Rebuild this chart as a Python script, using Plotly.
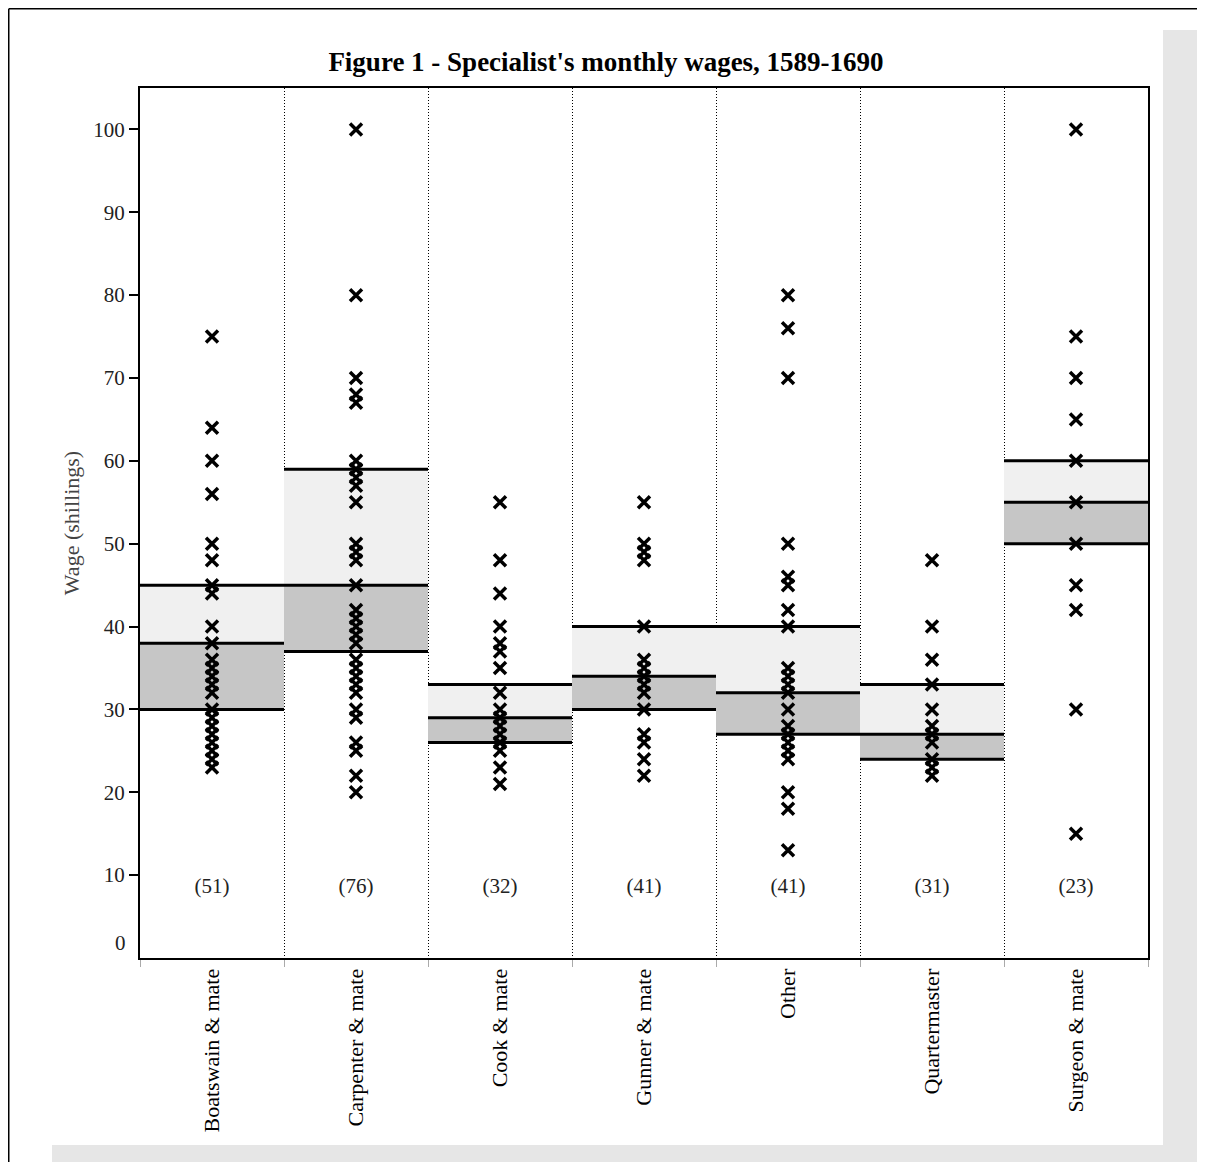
import plotly.graph_objects as go

categories = ["Boatswain & mate", "Carpenter & mate", "Cook & mate", "Gunner & mate",
              "Other", "Quartermaster", "Surgeon & mate"]
counts = [51, 76, 32, 41, 41, 31, 23]

q1 = [30, 37, 26, 30, 27, 24, 50]
median = [38, 45, 29, 34, 32, 27, 55]
q3 = [45, 59, 33, 40, 40, 33, 60]

boatswain = [75, 64, 60, 56, 50, 48, 45, 44, 40, 38, 36, 35, 34, 33, 32, 30, 29, 28, 27, 26, 25, 24, 23]
carpenter = [100, 80, 70, 68, 67, 60, 59, 58, 57, 55, 50, 49, 48, 45, 42, 41, 40, 39, 38, 36, 35,
             34, 33, 32, 30, 29, 26, 25, 22, 20]
cook = [55, 48, 44, 40, 38, 37, 35, 32, 30, 29, 28, 27, 26, 25, 23, 21]
gunner = [55, 50, 49, 48, 40, 36, 35, 34, 33, 32, 30, 27, 26, 24, 22]
other = [80, 76, 70, 50, 46, 45, 42, 40, 35, 34, 33, 32, 30, 28, 27, 26, 25, 24, 20, 18, 13]
quartermaster = [48, 40, 36, 33, 30, 28, 27, 26, 24, 23, 22]
surgeon = [100, 75, 70, 65, 60, 55, 50, 45, 42, 30, 15]

wages = [boatswain, carpenter, cook, gunner, other, quartermaster, surgeon]

y_ticks = [0, 10, 20, 30, 40, 50, 60, 70, 80, 90, 100]
count_label_y = 8.5

SERIF = "Liberation Serif, Times New Roman, serif"
idx = list(range(len(categories)))

fig = go.Figure()

# lower band (Q1 -> median)
fig.add_trace(go.Bar(x=idx, y=[m - a for m, a in zip(median, q1)], base=q1, width=1.0,
                     marker=dict(color="#c6c6c6", line=dict(width=0)), hoverinfo="skip",
                     showlegend=False))
# upper band (median -> Q3)
fig.add_trace(go.Bar(x=idx, y=[b - m for b, m in zip(q3, median)], base=median, width=1.0,
                     marker=dict(color="#f0f0f0", line=dict(width=0)), hoverinfo="skip",
                     showlegend=False))

# horizontal quartile lines
lx, ly = [], []
for i in idx:
    for v in (q1[i], median[i], q3[i]):
        lx += [i - 0.5, i + 0.5, None]
        ly += [v, v, None]
fig.add_trace(go.Scatter(x=lx, y=ly, mode="lines", line=dict(color="black", width=3),
                         hoverinfo="skip", showlegend=False))

# wage points
px, py = [], []
for i, vals in zip(idx, wages):
    px += [i] * len(vals)
    py += vals
fig.add_trace(go.Scatter(x=px, y=py, mode="markers",
                         marker=dict(symbol="x-thin", size=12, color="black",
                                     line=dict(color="black", width=3.5)),
                         showlegend=False))

# counts
fig.add_trace(go.Scatter(x=idx, y=[count_label_y] * len(idx), mode="text",
                         text=[f"({c})" for c in counts],
                         textfont=dict(family=SERIF, size=21, color="#222"),
                         hoverinfo="skip", showlegend=False))

# the page body adds an 8px margin; figure coords = screen coords - 8
OFF = 8
W, H = 1197, 1154
L, R, T, B = 132, 57, 80, 204
pw, ph = W - L - R, H - T - B


def xp(s):
    return (s - OFF - L) / pw


def yp(s):
    return (H - B - (s - OFF)) / ph


shapes = [
    dict(type="rect", xref="paper", yref="paper", x0=xp(1163), x1=xp(1210), y0=yp(1170), y1=yp(30),
         fillcolor="#e6e6e6", line=dict(width=0), layer="below"),
    dict(type="rect", xref="paper", yref="paper", x0=xp(52), x1=xp(1163), y0=yp(1170), y1=yp(1145),
         fillcolor="#e6e6e6", line=dict(width=0), layer="below"),
    dict(type="line", xref="paper", yref="paper", x0=xp(8.75), x1=xp(1210), y0=yp(8.75), y1=yp(8.75),
         line=dict(color="black", width=1.5)),
    dict(type="line", xref="paper", yref="paper", x0=xp(8.75), x1=xp(8.75), y0=yp(8.75), y1=yp(1170),
         line=dict(color="black", width=1.5)),
]

fig.update_layout(
    width=W, height=H,
    margin=dict(l=L, r=R, t=T, b=B),
    paper_bgcolor="white", plot_bgcolor="white",
    barmode="overlay",
    title=dict(text="<b>Figure 1 - Specialist's monthly wages, 1589-1690</b>",
               x=(606 - OFF) / W, xref="container", xanchor="center",
               y=1 - (62 - OFF) / H, yref="container", yanchor="middle",
               font=dict(family=SERIF, size=27, color="black")),
    shapes=shapes,
    font=dict(family=SERIF, color="black"),
)

fig.update_xaxes(
    range=[-0.5, len(categories) - 0.5],
    tickmode="array", tickvals=idx, ticktext=categories,
    tickangle=-90, ticks="", showgrid=False, zeroline=False,
    tickfont=dict(family=SERIF, size=22, color="black"),
    showline=True, linecolor="black", linewidth=2, mirror=True,
    minor=dict(tickmode="array", tickvals=[i + 0.5 for i in idx[:-1]] + [-0.5, len(idx) - 0.5],
               ticks="outside", ticklen=7, tickcolor="#aaaaaa", tickwidth=1,
               showgrid=True, gridcolor="black", griddash="1px,2px", gridwidth=1),
)

fig.update_yaxes(
    range=[0, 105],
    tickmode="array", tickvals=y_ticks[1:],
    ticks="outside", ticklen=9, tickwidth=1.5, tickcolor="black",
    showgrid=False, zeroline=False,
    tickfont=dict(family=SERIF, size=21, color="#222"),
    showline=True, linecolor="black", linewidth=2, mirror=True,
    title=dict(text="Wage (shillings)", font=dict(family=SERIF, size=22, color="#444"), standoff=8),
)

fig.add_annotation(x=0, xref="paper", y=y_ticks[0], yref="y", text=str(y_ticks[0]),
                   showarrow=False, xanchor="right", yanchor="middle", xshift=-12, yshift=15,
                   font=dict(family=SERIF, size=21, color="#222"))

fig.write_html("out.html")
